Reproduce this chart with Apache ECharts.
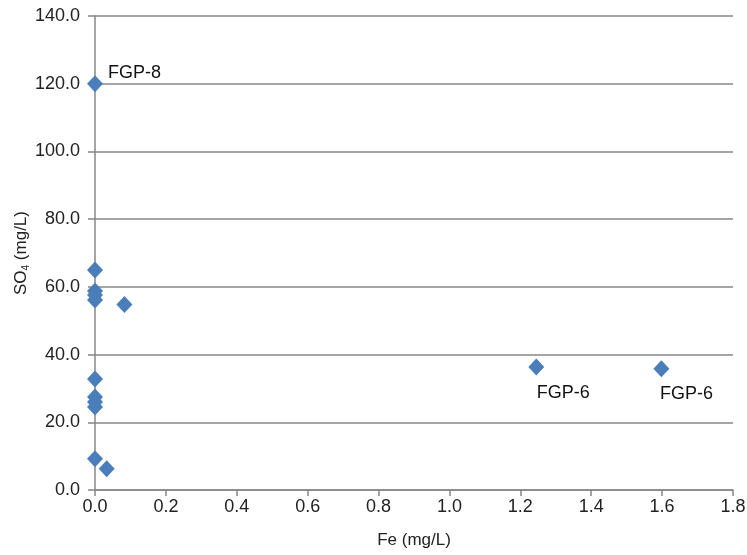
<!DOCTYPE html>
<html>
<head>
<meta charset="utf-8">
<style>
  html, body { margin: 0; padding: 0; background: #fff; }
  #chart { width: 747px; height: 555px; }
</style>
<script src="https://cdn.jsdelivr.net/npm/echarts@6/dist/echarts.min.js"></script>
</head>
<body>
<div id="chart"></div>
<script>
// Fe vs SO4 concentrations per sample
const feValues  = [0.0, 0.0, 0.0, 0.0, 0.0, 0.083, 0.0, 0.0, 0.0, 0.0, 0.0, 0.033, 1.245, 1.598];
const so4Values = [120.0, 65.0, 58.8, 57.6, 56.1, 54.8, 32.8, 27.5, 26.0, 24.5, 9.2, 6.3, 36.3, 35.8];
const pointLabels = ['FGP-8', '', '', '', '', '', '', '', '', '', '', '', 'FGP-6', 'FGP-6'];

const xTicks = { min: 0, max: 1.8, step: 0.2 };
const yTicks = { min: 0, max: 140, step: 20 };

const font = 'Liberation Sans, Arial, Helvetica, sans-serif';
const gridGrey = '#878787';

const points = feValues.map((fe, i) => ({
  value: [fe, so4Values[i]],
  label: pointLabels[i] ? {
    show: true,
    formatter: pointLabels[i],
    position: i === 0 ? 'right' : 'bottom',
    distance: i === 0 ? 5 : 8,
    offset: i === 0 ? [0, -11] : (i === 12 ? [27, 0] : [25, 0])
  } : { show: false }
}));

const chart = echarts.init(document.getElementById('chart'), null, { renderer: 'canvas' });
chart.setOption({
  animation: false,
  backgroundColor: '#ffffff',
  grid: { left: 95, right: 14, top: 16, bottom: 65, containLabel: false, outerBoundsMode: 'none' },
  xAxis: {
    type: 'value',
    min: xTicks.min, max: xTicks.max, interval: xTicks.step,
    name: 'Fe (mg/L)',
    nameLocation: 'middle',
    nameGap: 42,
    nameMoveOverlap: false,
    nameTextStyle: { color: '#222', fontSize: 17, fontFamily: font },
    axisLine: { show: true, lineStyle: { color: gridGrey, width: 1.5 } },
    axisTick: { show: true, inside: false, length: 6, lineStyle: { color: gridGrey, width: 1.5 } },
    axisLabel: { color: '#222', fontSize: 18, fontFamily: font, margin: 8,
                 formatter: v => v.toFixed(1) },
    splitLine: { show: false }
  },
  yAxis: {
    type: 'value',
    min: yTicks.min, max: yTicks.max, interval: yTicks.step,
    name: '{m|SO}{s|4}{m| (mg/L)}',
    nameLocation: 'middle',
    nameGap: 64,
    nameRotate: 90,
    nameMoveOverlap: false,
    nameTextStyle: {
      color: '#222', fontFamily: font,
      rich: {
        m: { fontSize: 17, fontFamily: font, color: '#222' },
        s: { fontSize: 10, fontFamily: font, color: '#222', verticalAlign: 'bottom', padding: [9, 0, 0, 0] }
      }
    },
    axisLine: { show: true, onZero: false, lineStyle: { color: gridGrey, width: 1.5 } },
    axisTick: { show: true, inside: false, length: 7, lineStyle: { color: gridGrey, width: 1.5 } },
    axisLabel: { color: '#222', fontSize: 18, fontFamily: font, margin: 15,
                 formatter: v => v.toFixed(1) },
    splitLine: { show: true, lineStyle: { color: gridGrey, width: 1.5 } }
  },
  series: [{
    type: 'scatter',
    symbol: 'diamond',
    symbolSize: [16, 17],
    itemStyle: { color: '#4a7ebb', opacity: 1 },
    label: { color: '#111', fontSize: 18, fontFamily: font },
    data: points
  }]
});
</script>
</body>
</html>
